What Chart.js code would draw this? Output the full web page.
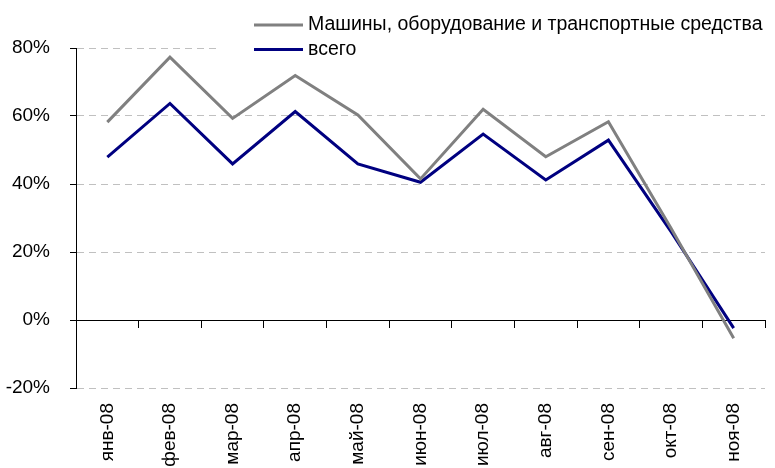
<!DOCTYPE html>
<html>
<head>
<meta charset="utf-8">
<script src="https://cdn.jsdelivr.net/npm/chart.js@4"></script>
<style>
  html, body { margin: 0; padding: 0; background: #ffffff; overflow: hidden; }
  #wrap { width: 775px; height: 468px; }
</style>
</head>
<body>
<div id="wrap"><canvas id="c" width="775" height="468"></canvas></div>
<script>
const categories = ['янв-08', 'фев-08', 'мар-08', 'апр-08', 'май-08', 'июн-08', 'июл-08', 'авг-08', 'сен-08', 'окт-08', 'ноя-08'];
const machinery = [58.2, 77.3, 59.3, 71.9, 60.3, 41.5, 62.0, 48.0, 58.3, 27.0, -5.4];
const total = [47.9, 63.7, 45.9, 61.3, 45.9, 40.5, 54.7, 41.2, 52.9, 26.0, -2.4];
const seriesNames = ['Машины, оборудование и транспортные средства', 'всего'];
const yTicks = [-20, 0, 20, 40, 60, 80];

const FONT = 'Liberation Sans, Arial, sans-serif';

const legendPlugin = {
  id: 'customLegend',
  afterDraw(chart) {
    const ctx = chart.ctx;
    ctx.save();
    ctx.fillStyle = '#ffffff';
    ctx.fillRect(218, 0, 557, 56);
    ctx.font = '19.5px ' + FONT;
    ctx.textBaseline = 'middle';
    ctx.textAlign = 'left';
    chart.data.datasets.forEach((ds, i) => {
      const y = 25 + i * 24.5;
      ctx.strokeStyle = ds.borderColor;
      ctx.lineWidth = 3;
      ctx.beginPath();
      ctx.moveTo(254, y);
      ctx.lineTo(303, y);
      ctx.stroke();
      ctx.fillStyle = '#000000';
      ctx.fillText(ds.label, 308, y);
    });
    ctx.restore();
  }
};

new Chart(document.getElementById('c'), {
  type: 'line',
  data: {
    labels: categories,
    datasets: [
      { label: seriesNames[0], data: machinery, borderColor: '#808080', borderWidth: 3, pointRadius: 0, tension: 0, fill: false, xAxisID: 'x', yAxisID: 'y' },
      { label: seriesNames[1], data: total, borderColor: '#000080', borderWidth: 3, pointRadius: 0, tension: 0, fill: false, xAxisID: 'x', yAxisID: 'y' }
    ]
  },
  options: {
    responsive: false,
    animation: false,
    layout: { padding: { top: 48, right: 10, left: 0, bottom: 0 } },
    plugins: { legend: { display: false }, tooltip: { enabled: false } },
    scales: {
      x: {
        type: 'category',
        position: 'bottom',
        offset: true,
        grid: { display: false, drawTicks: false },
        border: { display: false },
        ticks: {
          autoSkip: false, maxRotation: 90, minRotation: 90, padding: 15,
          color: '#000000', font: { family: FONT, size: 19 }
        },
        afterFit(scale) { scale.height = 80; }
      },
      xz: {
        type: 'category',
        axis: 'x',
        position: { y: 0 },
        offset: true,
        grid: { display: true, drawOnChartArea: false, drawTicks: true, tickLength: 7, offset: true, color: '#000000', tickColor: '#000000', lineWidth: 1 },
        border: { display: true, color: '#000000', width: 1 },
        ticks: { display: false }
      },
      y: {
        type: 'linear',
        position: 'left',
        min: -20, max: 80,
        afterBuildTicks(scale) { scale.ticks = yTicks.map(v => ({ value: v })); },
        grid: {
          color: (c) => c.tick && c.tick.value === 0 ? 'rgba(0,0,0,0)' : '#c0c0c0',
          lineWidth: 1,
          drawTicks: true,
          tickLength: 6,
          tickColor: '#000000',
          tickBorderDash: [6, 0]
        },
        border: { display: true, color: '#000000', width: 1, dash: [7, 5] },
        ticks: {
          padding: 20,
          color: '#000000',
          font: { family: FONT, size: 19 },
          callback: (v) => v + '%'
        },
        afterFit(scale) { scale.width = 76; }
      }
    }
  },
  plugins: [legendPlugin]
});
</script>
</body>
</html>
